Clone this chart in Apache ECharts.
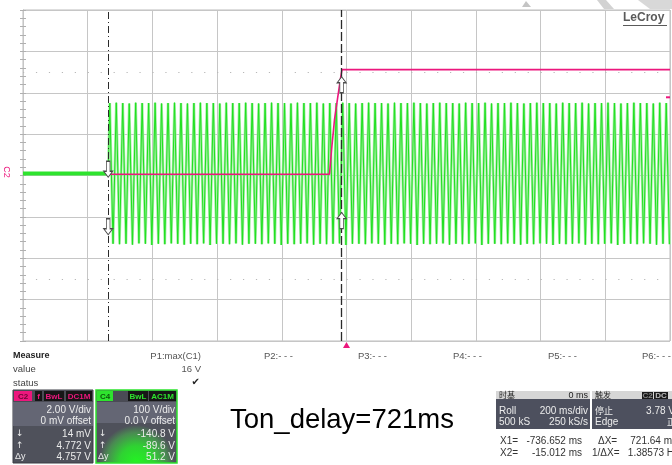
<!DOCTYPE html>
<html>
<head>
<meta charset="utf-8">
<script src="https://cdn.jsdelivr.net/npm/echarts@6/dist/echarts.min.js"></script>
<style>html,body{margin:0;padding:0;background:#fff}#c{width:672px;height:465px}</style>
</head>
<body>
<div id="c"></div>
<script>
// ---------- data (read from the screen) ----------
// time axis: ms, 200 ms/div, centre = 0 ms
const timeTicksMs = [-1000, -800, -600, -400, -200, 0, 200, 400, 600, 800, 1000];
// C2 (pink, 2 V/div)
const c2Times = [-1000, -736.652, -52.6, -46.4, -37.1, -27.8, -18.5, -13.9, 1000];
const c2Volts = [0.06, 0.06, 0.06, 1.2, 2.7, 3.7, 4.7, 5.12, 5.12];
// C4 (green, 100 V/div) : flat part before the cursor X1
const c4PreTimes = [-1000, -736.652];
const c4PreVolts = [5, 5];
// C4 oscillation: 50 Hz, start time, period and per-cycle extremes
const c4StartMs = -736.652;
const c4PeriodMs = 20;
const c4Tops = [
175,176,175,174,176,175,175,176,174,175,
176,175,174,175,176,175,175,174,176,175,
175,176,175,174,175,176,175,175,174,176,
175,175,176,174,175,175,176,175,174,175,
176,175,175,174,176,175,175,176,175,174,
175,176,175,175,174,176,175,175,176,174,
175,175,176,175,174,175,176,175,175,174,
176,175,175,176,174,175,175,176,175,174,
175,176,175,175,174,176,175
];
const c4Bottoms = [
-165,-166,-165,-167,-164,-165,-168,-165,-166,-164,
-165,-167,-165,-166,-164,-168,-165,-165,-166,-164,
-167,-165,-165,-166,-164,-165,-168,-165,-166,-165,
-164,-167,-165,-166,-165,-164,-168,-165,-165,-166,
-164,-165,-167,-165,-166,-164,-165,-168,-165,-166,
-165,-164,-167,-165,-166,-165,-164,-168,-165,-165,
-166,-164,-165,-167,-165,-166,-164,-165,-168,-165,
-166,-165,-164,-167,-165,-166,-165,-164,-168,-165,
-165,-166,-164,-165,-167,-165,-166
];
// cursors
const cursorX1 = -736.652;
const cursorX2 = -15.012;
const c2AtX1 = 0.06, c2AtX2 = 4.772;
const c4AtX1 = -140.8, c4AtX2 = -89.6;
const triggerTimeMs = 0;
const triggerLevelV = 3.78;
const dotRowsV = [5, -5];

// ---------- build series data ----------
const c2Data = c2Times.map((t, i) => [t, c2Volts[i]]);
const c4PreData = c4PreTimes.map((t, i) => [t, c4PreVolts[i]]);
const c4Data = [[c4StartMs, c4PreVolts[c4PreVolts.length - 1]]];
for (let i = 0; i < c4Tops.length; i++) {
  c4Data.push([c4StartMs + c4PeriodMs / 4 + i * c4PeriodMs, c4Tops[i]]);
  c4Data.push([c4StartMs + 3 * c4PeriodMs / 4 + i * c4PeriodMs, c4Bottoms[i]]);
}

const PINK = '#ec177d';
const GREEN = '#2ee32e';
const GRID = '#c6c6c6';
const F = '"Liberation Sans", Arial, sans-serif';
const CJK = '"Noto Sans CJK SC", "Liberation Sans", sans-serif';

const upArrow = 'path://M5,0 L10,6 L7,6 L7,16 L3,16 L3,6 L0,6 Z';
const downArrow = 'path://M3,0 L7,0 L7,10 L10,10 L5,16 L0,10 L3,10 Z';
const arrowStyle = {color: '#ffffff', borderColor: '#4a4a4a', borderWidth: 1};

function t(x, y, text, opt) {
  opt = opt || {};
  return {type: 'text', x: x, y: y, z: 20, rotation: opt.rotation || 0,
    style: {text: text, font: opt.font || ('10px ' + F), fill: opt.fill || '#333',
      textAlign: opt.align || 'left', textVerticalAlign: 'middle'}};
}
function r(x, y, w, h, fill, stroke, lw) {
  return {type: 'rect', z: 19, shape: {x: x, y: y, width: w, height: h},
    style: {fill: fill, stroke: stroke || null, lineWidth: lw || 0}};
}
function tagBox(x, y, w, h, bg, label, color) {
  return [r(x, y, w, h, bg), t(x + w / 2, y + h / 2 + 0.5, label, {align: 'center', fill: color, font: 'bold 8px ' + F})];
}

const PANEL_TOP = '#646674';
const PANEL_BOT = '#4f515b';
const LIGHT = '#ececec';

const graphics = [];
// LeCroy logo
graphics.push(t(623, 18, 'LeCroy', {font: 'bold 12px ' + F, fill: '#5a5a5a'}));
graphics.push(r(623, 25, 44, 1, '#5a5a5a'));
// faint watermark shapes at the top
graphics.push({type: 'polygon', z: 1, shape: {points: [[522, 7], [526, 1], [531, 7]]}, style: {fill: '#c4c4c4'}});
graphics.push({type: 'polygon', z: 1, shape: {points: [[597, 0], [606, 0], [614, 9], [604, 9]]}, style: {fill: '#d2d2d2'}});
graphics.push({type: 'polygon', z: 1, shape: {points: [[638, 0], [672, 0], [672, 9], [650, 9]]}, style: {fill: '#d8d8d8'}});
// C2 marker on the left
graphics.push(t(6, 172, 'C2', {rotation: -Math.PI / 2, align: 'center', fill: PINK, font: '9px ' + F}));

// Measure table
graphics.push(t(13, 356, 'Measure', {font: 'bold 9px ' + F, fill: '#222'}));
graphics.push(t(13, 369, 'value', {font: '9.5px ' + F, fill: '#444'}));
graphics.push(t(13, 383, 'status', {font: '9.5px ' + F, fill: '#444'}));
graphics.push(t(201, 356, 'P1:max(C1)', {align: 'right', font: '9.5px ' + F, fill: '#555'}));
graphics.push(t(201, 369, '16 V', {align: 'right', font: '9.5px ' + F, fill: '#555'}));
graphics.push(t(200, 382, '\u2714', {align: 'right', font: '10px "DejaVu Sans"', fill: '#222'}));
[['P2:- - -', 264], ['P3:- - -', 358], ['P4:- - -', 453], ['P5:- - -', 548], ['P6:- - -', 642]].forEach(p => {
  graphics.push(t(p[1], 356, p[0], {font: '9.5px ' + F, fill: '#555'}));
});

// C2 channel box
(function () {
  const x = 13, y = 390, w = 80, h = 73;
  graphics.push(r(x, y, w, h, PANEL_BOT, '#3b3c44', 1));
  graphics.push(r(x, y, w, 12, '#4a4b55'));
  graphics.push(...tagBox(x + 1, y + 1, 18, 10, PINK, 'C2', '#6a0634'));
  graphics.push(...tagBox(x + 22, y + 1, 7, 10, '#161616', 'f', PINK));
  graphics.push(...tagBox(x + 31, y + 1, 20, 10, '#161616', 'BwL', PINK));
  graphics.push(...tagBox(x + 53, y + 1, 26, 10, '#161616', 'DC1M', PINK));
  graphics.push(r(x, y + 12, w, 24, PANEL_TOP));
  graphics.push(t(x + 78, y + 20, '2.00 V/div', {align: 'right', fill: LIGHT}));
  graphics.push(t(x + 78, y + 31, '0 mV offset', {align: 'right', fill: LIGHT}));
  graphics.push(t(x + 3, y + 44, '\u2193', {fill: LIGHT, font: '9px "DejaVu Sans"'}));
  graphics.push(t(x + 78, y + 44, '14 mV', {align: 'right', fill: LIGHT}));
  graphics.push(t(x + 3, y + 56, '\u2191', {fill: LIGHT, font: '9px "DejaVu Sans"'}));
  graphics.push(t(x + 78, y + 56, '4.772 V', {align: 'right', fill: LIGHT}));
  graphics.push(t(x + 2, y + 67, '\u0394y', {fill: LIGHT, font: '9px ' + F}));
  graphics.push(t(x + 78, y + 67, '4.757 V', {align: 'right', fill: LIGHT}));
})();

// C4 channel box
(function () {
  const x = 96, y = 390, w = 81, h = 73;
  graphics.push(r(x, y, w, h, PANEL_BOT));
  graphics.push(r(x, y, w, 12, '#4a4b55'));
  graphics.push(...tagBox(x + 1, y + 1, 16, 10, GREEN, 'C4', '#0c5a0c'));
  graphics.push(...tagBox(x + 32, y + 1, 20, 10, '#161616', 'BwL', GREEN));
  graphics.push(...tagBox(x + 53, y + 1, 27, 10, '#161616', 'AC1M', GREEN));
  graphics.push(r(x, y + 12, w, 24, PANEL_TOP));
  graphics.push({type: 'rect', z: 19, shape: {x: x, y: y + 33, width: w, height: h - 33},
    style: {fill: new echarts.graphic.RadialGradient(0.5, 1, 0.95, [
      {offset: 0, color: '#22f522'}, {offset: 0.45, color: '#2fd232'}, {offset: 0.8, color: '#4a8a52'}, {offset: 1, color: PANEL_BOT}])}});
  graphics.push({type: 'rect', z: 21, shape: {x: x, y: y, width: w, height: h},
    style: {fill: null, stroke: GREEN, lineWidth: 1.5}});
  graphics.push(t(x + 79, y + 20, '100 V/div', {align: 'right', fill: LIGHT}));
  graphics.push(t(x + 79, y + 31, '0.0 V offset', {align: 'right', fill: LIGHT}));
  graphics.push(t(x + 3, y + 44, '\u2193', {fill: LIGHT, font: '9px "DejaVu Sans"'}));
  graphics.push(t(x + 79, y + 44, '-140.8 V', {align: 'right', fill: LIGHT}));
  graphics.push(t(x + 3, y + 56, '\u2191', {fill: LIGHT, font: '9px "DejaVu Sans"'}));
  graphics.push(t(x + 79, y + 56, '-89.6 V', {align: 'right', fill: LIGHT}));
  graphics.push(t(x + 2, y + 67, '\u0394y', {fill: LIGHT, font: '9px ' + F}));
  graphics.push(t(x + 79, y + 67, '51.2 V', {align: 'right', fill: LIGHT}));
})();

// Annotation text
graphics.push(t(230, 420, 'Ton_delay=721ms', {font: '27.5px ' + F, fill: '#000'}));

// Timebase box
(function () {
  const x = 496, y = 391, w = 94;
  graphics.push(r(x, y, w, 38, '#4d505e'));
  graphics.push(r(x, y, w, 8, '#d6d6d6'));
  graphics.push(t(x + 3, y + 4, '时基', {font: '8px ' + CJK, fill: '#222'}));
  graphics.push(t(x + 92, y + 4.5, '0 ms', {align: 'right', font: '9px ' + F, fill: '#222'}));
  graphics.push(t(x + 3, y + 20, 'Roll', {fill: LIGHT}));
  graphics.push(t(x + 92, y + 20, '200 ms/div', {align: 'right', fill: LIGHT}));
  graphics.push(t(x + 3, y + 31, '500 kS', {fill: LIGHT}));
  graphics.push(t(x + 92, y + 31, '250 kS/s', {align: 'right', fill: LIGHT}));
})();
// Trigger box
(function () {
  const x = 592, y = 391, w = 82;
  graphics.push(r(x, y, w, 38, '#4d505e'));
  graphics.push(r(x, y, w, 8, '#d6d6d6'));
  graphics.push(t(x + 3, y + 4, '触发', {font: '8px ' + CJK, fill: '#222'}));
  graphics.push(...tagBox(x + 50, y + 1, 11, 7, '#1a1a1a', 'C2', '#888'));
  graphics.push(...tagBox(x + 62, y + 1, 14, 7, '#1a1a1a', 'DC', '#bbb'));
  graphics.push(t(x + 3, y + 20, '停止', {font: '9px ' + CJK, fill: LIGHT}));
  graphics.push(t(x + 83, y + 20, '3.78 V', {align: 'right', fill: LIGHT}));
  graphics.push(t(x + 3, y + 31, 'Edge', {fill: LIGHT}));
  graphics.push(t(x + 84, y + 31, '正', {align: 'right', font: '9px ' + CJK, fill: LIGHT}));
})();
// cursor readouts
graphics.push(t(500, 441, 'X1=', {fill: '#333'}));
graphics.push(t(582, 441, '-736.652 ms', {align: 'right', fill: '#333'}));
graphics.push(t(598, 441, '\u0394X=', {fill: '#333'}));
graphics.push(t(677, 441, '721.64 ms', {align: 'right', fill: '#333'}));
graphics.push(t(500, 453, 'X2=', {fill: '#333'}));
graphics.push(t(582, 453, '-15.012 ms', {align: 'right', fill: '#333'}));
graphics.push(t(592, 453, '1/\u0394X=', {fill: '#333'}));
graphics.push(t(679, 453, '1.38573 Hz', {align: 'right', fill: '#333'}));

const tickAxis = (inside) => ({
  type: 'value', min: -4, max: 4, interval: 1, position: 'left',
  axisLine: {show: true, onZero: true, lineStyle: {color: GRID}},
  axisTick: {show: true, inside: inside, length: 3, lineStyle: {color: '#b0b0b0'}},
  minorTick: {show: true, splitNumber: 5, length: 3, lineStyle: {color: '#b0b0b0'}},
  axisLabel: {show: false}, splitLine: {show: false}
});

const option = {
  animation: false,
  backgroundColor: '#ffffff',
  grid: {left: 23, top: 10, width: 647, height: 331, show: true, borderColor: '#bdbdbd', borderWidth: 1},
  xAxis: {
    type: 'value', min: timeTicksMs[0], max: timeTicksMs[timeTicksMs.length - 1], interval: 200,
    axisLine: {show: false}, axisTick: {show: false}, axisLabel: {show: false},
    splitLine: {show: true, lineStyle: {color: GRID, width: 1}}
  },
  yAxis: [
    {type: 'value', min: -8, max: 8, interval: 2, axisLine: {show: false}, axisTick: {show: false},
      axisLabel: {show: false}, splitLine: {show: true, lineStyle: {color: GRID, width: 1}}},
    {type: 'value', min: -400, max: 400, interval: 100, show: false, splitLine: {show: false}},
    tickAxis(true),
    tickAxis(false)
  ],
  graphic: graphics,
  series: [
    { // dotted rows
      type: 'line', data: [], yAxisIndex: 0, z: 1, silent: true,
      markLine: {symbol: 'none', silent: true, label: {show: false},
        lineStyle: {color: '#b8b8b8', type: [1.2, 11.74], width: 1.2},
        data: dotRowsV.map(v => ({yAxis: v}))}
    },
    { // soft halo of the dense C4 trace
      name: 'C4halo', type: 'line', xAxisIndex: 0, yAxisIndex: 1, data: c4Data, z: 2,
      showSymbol: false, symbol: 'none', silent: true, lineStyle: {color: '#a4f0a4', width: 2.6}
    },
    {
      name: 'C4', type: 'line', xAxisIndex: 0, yAxisIndex: 1, data: c4Data, z: 2,
      showSymbol: false, symbol: 'none', lineStyle: {color: '#1fe01f', width: 1},
      markPoint: {symbolSize: [9, 16], label: {show: false}, itemStyle: arrowStyle, z: 12,
        data: [
          {coord: [cursorX1, c4AtX1], symbol: downArrow, symbolOffset: [0, -7]},
          {coord: [cursorX2, c4AtX2], symbol: upArrow, symbolOffset: [0, 8]}
        ]}
    },
    {
      name: 'C2', type: 'line', xAxisIndex: 0, yAxisIndex: 0, data: c2Data, z: 3,
      showSymbol: false, symbol: 'none', lineStyle: {color: PINK, width: 1.6},
      markPoint: {label: {show: false}, z: 12,
        data: [
          {coord: [cursorX1, c2AtX1], symbol: downArrow, symbolSize: [9, 16], symbolOffset: [0, -5], itemStyle: arrowStyle},
          {coord: [cursorX2, c2AtX2], symbol: upArrow, symbolSize: [9, 16], symbolOffset: [0, 8], itemStyle: arrowStyle},
          {coord: [triggerTimeMs, -8], symbol: 'triangle', symbolSize: [7, 6], symbolOffset: [0, 4], itemStyle: {color: PINK}},
          {coord: [1000, triggerLevelV], symbol: 'rect', symbolSize: [4, 2], symbolOffset: [-2, 0], itemStyle: {color: PINK}}
        ]}
    },
    {
      name: 'C4pre', type: 'line', xAxisIndex: 0, yAxisIndex: 1, data: c4PreData, z: 4,
      showSymbol: false, symbol: 'none', lineStyle: {color: GREEN, width: 4}
    },
    { // cursors
      type: 'line', data: [], yAxisIndex: 0, z: 10, silent: true,
      markLine: {symbol: 'none', silent: true, label: {show: false},
        data: [
          {xAxis: cursorX1, lineStyle: {color: '#2a2a2a', type: [7, 3, 1, 3], width: 1}},
          {xAxis: cursorX2, lineStyle: {color: '#2a2a2a', type: [9, 3], width: 1.3}}
        ]}
    }
  ]
};

const chart = echarts.init(document.getElementById('c'), null, {renderer: 'canvas', width: 672, height: 465});
chart.setOption(option);
</script>
</body>
</html>
